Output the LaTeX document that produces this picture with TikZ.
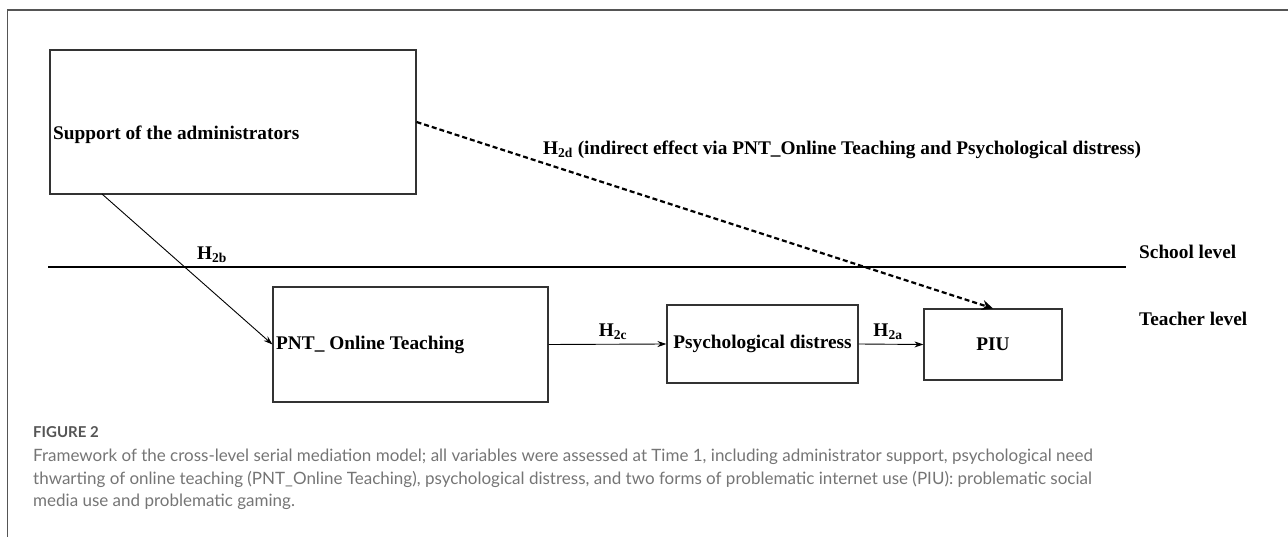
\documentclass[tikz,border=0pt]{standalone}
\usepackage{fontspec}
\setmainfont{Liberation Serif}
\newfontfamily\capfont{Lato}
\usetikzlibrary{arrows.meta,calc}
\definecolor{framegray}{HTML}{555555}
\definecolor{capgray}{HTML}{757575}
\definecolor{boxline}{HTML}{333333}
\tikzset{
  varbox/.style={draw=boxline, line width=1.1pt, inner sep=0pt, fill=white},
  boxtext/.style={font=\fontsize{19.3}{21}\selectfont\bfseries, inner sep=0pt, text=black},
  hyp/.style={font=\fontsize{19.3}{21}\selectfont\bfseries, inner sep=0pt, text=black},
  solidarrow/.style={line width=0.9pt, -{Stealth[length=9pt,width=6pt]}},
  dasharrow/.style={line width=2.2pt, dash pattern=on 5pt off 3pt, -{Stealth[length=11pt,width=10pt]}},
  capline/.style={font=\capfont\fontsize{17}{20}\selectfont, text=capgray, inner sep=0pt, anchor=base west},
}
\begin{document}
\begin{tikzpicture}[x=1pt,y=-1pt]
\useasboundingbox (0,0) rectangle (1288,537);
% frame
\draw[framegray, line width=1.6pt] (7.5,537) -- (7.5,10) -- (1288,10);

% boxes
\node[varbox, minimum width=366pt, minimum height=144pt] (sup) at (233,122) {};
\node[boxtext, anchor=west] (supt) at (53,135) {Support of the administrators};

\node[varbox, minimum width=275pt, minimum height=115pt] (pnt) at (410.5,344.5) {};
\node[boxtext, anchor=west] (pntt) at (276,345) {PNT\_ Online Teaching};

\node[varbox, minimum width=191pt, minimum height=78pt] (psy) at (762.5,344) {};
\node[boxtext] (psyt) at (762.5,344) {Psychological distress};

\node[varbox, minimum width=138pt, minimum height=71pt] (piu) at (993,344.5) {};
\node[boxtext] (piut) at (993,344.5) {PIU};

% level line
\coordinate (lvlA) at (48,267);
\coordinate (lvlB) at (1126,267);
\draw[line width=2.4pt] (lvlA) -- (lvlB);
\node[boxtext, anchor=west] (school) at (1139,252) {School level};
\node[boxtext, anchor=west] (teacher) at (1139,319) {Teacher level};

% connectors
\coordinate (supbot) at (102,194);
\draw[solidarrow] (supbot) -- (pnt.west);
\draw[solidarrow] (pnt.east) -- (psy.west);
\draw[solidarrow] (psy.east) -- (piu.west);
\draw[dasharrow] (sup.east) -- (piu.north);

% labels
\node[hyp] (h2b) at (212,255) {H\textsubscript{2b}};
\node[hyp] (h2c) at (613,332) {H\textsubscript{2c}};
\node[hyp] (h2a) at (888,332) {H\textsubscript{2a}};
\node[hyp, anchor=west] (h2d) at (543,150) {H\textsubscript{2d} (indirect effect via PNT\_Online Teaching and Psychological distress)};

% caption
\node[capline, font=\capfont\fontsize{15}{18}\selectfont\bfseries, text=framegray] (figlab) at (33,437) {FIGURE 2};
\node[capline] (cap1) at (33,461) {Framework of the cross-level serial mediation model; all variables were assessed at Time 1, including administrator support, psychological need};
\node[capline] (cap2) at (33,484) {thwarting of online teaching (PNT\_Online Teaching), psychological distress, and two forms of problematic internet use (PIU): problematic social};
\node[capline] (cap3) at (33,506) {media use and problematic gaming.};
\end{tikzpicture}
\end{document}
